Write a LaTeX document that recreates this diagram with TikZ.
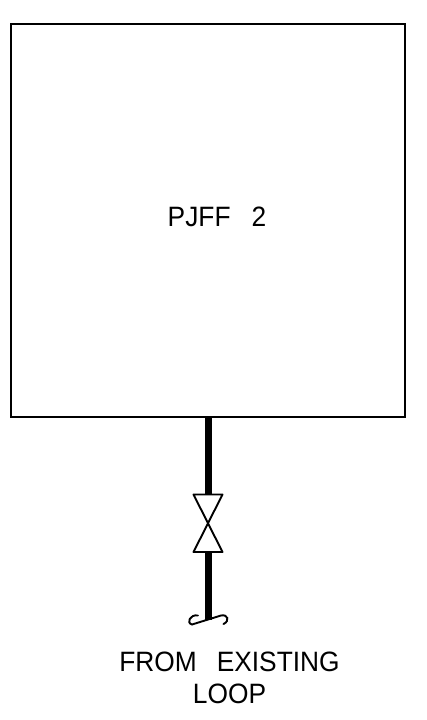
\documentclass[tikz,border=0pt]{standalone}
\usepackage{fontspec}
\setmainfont[FakeStretch=0.94]{Liberation Sans}
\tikzset{pipe/.style={line width=7pt},
  thin line/.style={line width=1.5pt},
  cadtext/.style={font=\fontsize{28}{32}\selectfont,align=center,inner sep=0pt}}
\begin{document}
\begin{tikzpicture}[x=1pt,y=-1pt]
    \useasboundingbox (0,0) rectangle (426,720);
    \node[draw,thin line,minimum width=394pt,minimum height=393pt,inner sep=0pt] (pjff) at (208,220.5) {};
    \node[cadtext] (tank) at (217,216.5) {PJFF\hspace{21pt}2};
    \coordinate (valvetop) at (208,494); \coordinate (valvemid) at (208,523);
    \coordinate (valvebot) at (208,552); \coordinate (pipeend) at (208,620);
    \draw[pipe] (pjff.south) -- (valvetop); \draw[pipe] (valvebot) -- (pipeend);
    \draw[line width=1.9pt,line join=round] (193.5,494.5) -- (222.5,494.5) -- (193.5,552) -- (222.5,552) -- cycle;
    % pipe break
    \draw[line width=1.9pt,line cap=round] (198,615.5) .. controls (190,614) and (186,623) .. (192,624.5)
      -- (221,615.5) .. controls (228,614) and (230,621) .. (223.5,624);
    \node[cadtext,anchor=north] (source) at (229.5,652) {FROM\hspace{20pt}EXISTING\\LOOP};
\end{tikzpicture}
\end{document}
